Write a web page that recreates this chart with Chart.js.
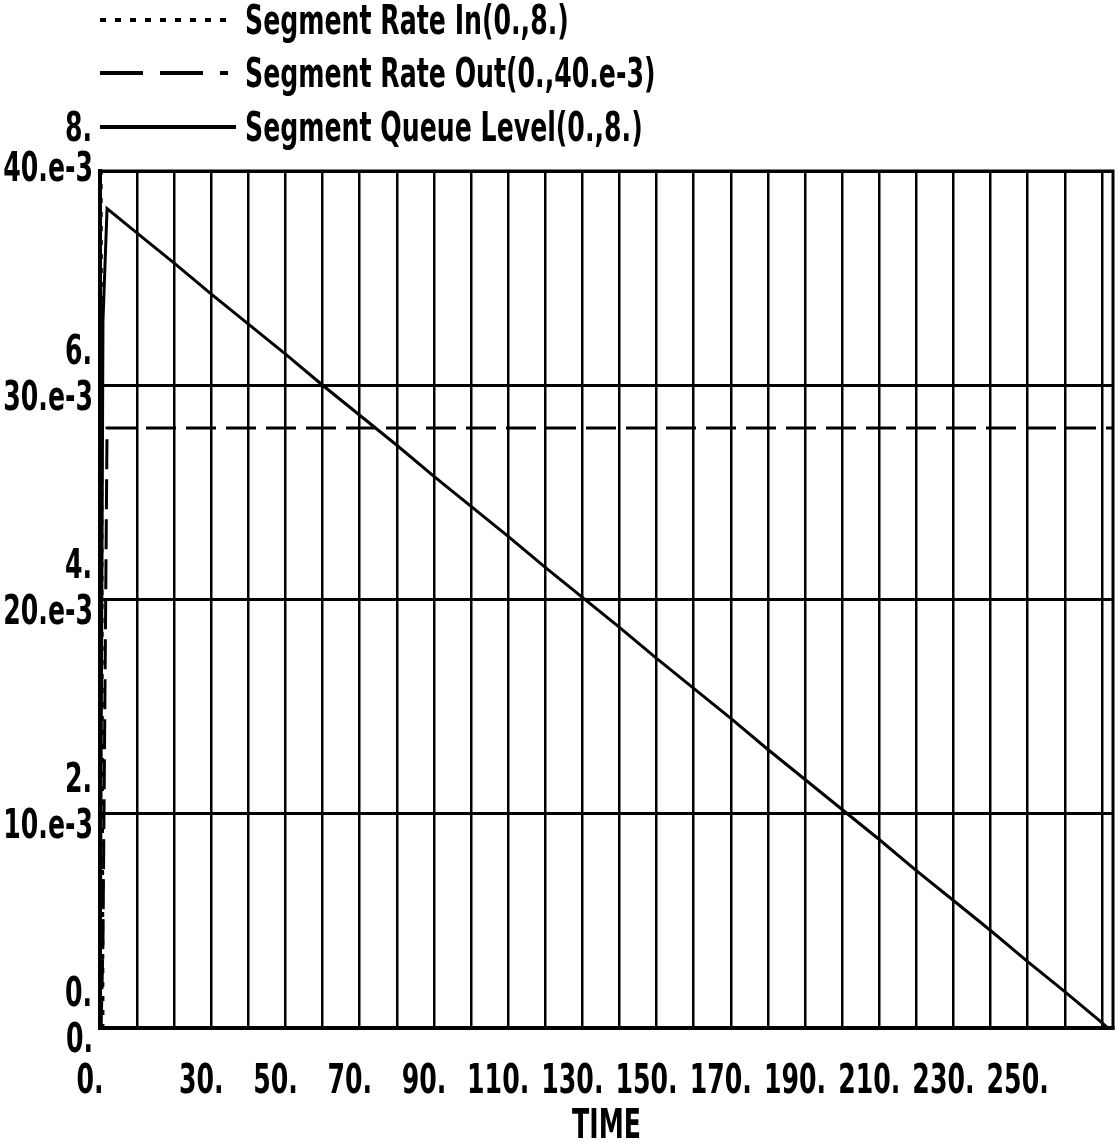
<!DOCTYPE html>
<html>
<head>
<meta charset="utf-8">
<script src="https://cdn.jsdelivr.net/npm/chart.js@4.4.1/dist/chart.umd.min.js"></script>
<style>
  body { margin: 0; background: #fff; }
  #wrap { position: relative; width: 1117px; height: 1146px; }
  #chart { position: absolute; left: 0; top: 0; }
  .legend-row { position: absolute; left: 0; height: 50px; width: 1117px; }
  .sample { position: absolute; left: 100px; height: 4px; }
  .legend-text, .level-top {
    position: absolute; font-family: 'DejaVu Sans Condensed', 'DejaVu Sans', sans-serif;
    font-weight: bold; font-size: 40px; line-height: 50px; white-space: nowrap;
    transform: scaleX(0.7); transform-origin: left center;
  }
  .legend-text { left: 245px; }
  .level-top { left: 65px; }
</style>
</head>
<body>
<div id="wrap">
  <canvas id="chart" width="1117" height="1146"></canvas>
  <div id="legend"></div>
</div>
<script>
// time axis
const timeSteps = [0, 0.3, 0.8, 1.9, 10, 20, 30, 40, 50, 60, 70, 80, 90, 100, 110, 120, 130, 140,
  150, 160, 170, 180, 190, 200, 210, 220, 230, 240, 250, 260, 270, 271.6, 273];

const rateIn = [8, 8, 0, 0, 0, 0, 0, 0, 0, 0, 0, 0, 0, 0, 0, 0, 0, 0,
  0, 0, 0, 0, 0, 0, 0, 0, 0, 0, 0, 0, 0, 0, 0];

const rateOut = [0, 0, 0.004, 0.028, 0.028, 0.028, 0.028, 0.028, 0.028, 0.028, 0.028, 0.028, 0.028, 0.028,
  0.028, 0.028, 0.028, 0.028, 0.028, 0.028, 0.028, 0.028, 0.028, 0.028, 0.028, 0.028, 0.028, 0.028,
  0.028, 0.028, 0.028, 0.028, 0.028];

const queueLevel = [0, 2.4, 6.6, 7.65, 7.42, 7.14, 6.85, 6.57, 6.29, 6.00, 5.72, 5.44, 5.15, 4.87,
  4.59, 4.30, 4.02, 3.74, 3.45, 3.17, 2.89, 2.60, 2.32, 2.04, 1.76, 1.47, 1.19, 0.91, 0.62, 0.34,
  0.05, 0, 0];

const seriesNames = ['Segment Rate In(0.,8.)', 'Segment Rate Out(0.,40.e-3)', 'Segment Queue Level(0.,8.)'];

const xGridTimes = [0, 10, 20, 30, 40, 50, 60, 70, 80, 90, 100, 110, 120, 130, 140, 150, 160, 170,
  180, 190, 200, 210, 220, 230, 240, 250, 260, 270];
const xTickValues = [0, 30, 50, 70, 90, 110, 130, 150, 170, 190, 210, 230, 250];
const xTickLabels = ['0.', '30.', '50.', '70.', '90.', '110.', '130.', '150.', '170.', '190.', '210.', '230.', '250.'];

const yTickValues = [0, 0.01, 0.02, 0.03, 0.04];
const yLevelLabels = ['0.', '2.', '4.', '6.', '8.'];
const yRateLabels = ['0.', '10.e-3', '20.e-3', '30.e-3', '40.e-3'];

const FONT = "'DejaVu Sans Condensed', 'DejaVu Sans', sans-serif";

function toPoints(values) {
  return timeSteps.map((t, i) => ({ x: t, y: values[i] }));
}

// html legend, same three line styles as the datasets
const legendStyles = [
  'repeating-linear-gradient(to right, #000 0 6px, transparent 6px 15px)',
  'repeating-linear-gradient(to right, #000 0 43px, transparent 43px 60px)',
  '#000'
];
const legendWidths = [132, 128, 136];
const legendTops = [-5, 48, 102];

let legendHtml = '';
seriesNames.forEach((name, i) => {
  legendHtml += `<div class="legend-row" style="top:${legendTops[i]}px">` +
    `<div class="sample" style="top:23px;width:${legendWidths[i]}px;background:${legendStyles[i]}"></div>` +
    (i === 2 ? `<span class="level-top">${yLevelLabels[4]}</span>` : '') +
    `<span class="legend-text">${name}</span></div>`;
});
document.getElementById('legend').innerHTML = legendHtml;

// the old plotter font is tall and narrow, so squeeze text horizontally
function drawNarrow(ctx, text, x, y, align) {
  ctx.save();
  ctx.translate(x, y);
  ctx.scale(0.7, 1);
  ctx.textAlign = align;
  ctx.fillText(text, 0, 0);
  ctx.restore();
}

// frame round the plot area plus the axis texts
const frameAndText = {
  id: 'frameAndText',
  afterDraw(chart) {
    const a = chart.chartArea;
    const ctx = chart.ctx;
    const xs = chart.scales.x;
    const ys = chart.scales.y;
    ctx.save();
    ctx.strokeStyle = '#000';
    ctx.lineWidth = 3;
    ctx.strokeRect(a.left, a.top, a.right - a.left, a.bottom - a.top);

    ctx.fillStyle = '#000';
    ctx.font = 'bold 40px ' + FONT;
    ctx.textBaseline = 'middle';
    yTickValues.forEach((v, i) => {
      const py = ys.getPixelForValue(v);
      if (i < 4) {
        drawNarrow(ctx, yLevelLabels[i], a.left - 8, py - 32, 'right');
        drawNarrow(ctx, yRateLabels[i], a.left - 7, py + 14, 'right');
      } else {
        drawNarrow(ctx, yRateLabels[i], a.left - 7, py, 'right');
      }
    });
    xTickValues.forEach((v, i) => {
      drawNarrow(ctx, xTickLabels[i], xs.getPixelForValue(v) - 10, a.bottom + 55, 'center');
    });
    drawNarrow(ctx, 'TIME', (a.left + a.right) / 2, a.bottom + 100, 'center');
    ctx.restore();
  }
};

new Chart(document.getElementById('chart'), {
  type: 'line',
  data: {
    datasets: [
      {
        label: seriesNames[0],
        data: toPoints(rateIn),
        yAxisID: 'yLevel',
        borderColor: '#000',
        borderWidth: 3,
        borderDash: [5, 9],
        pointRadius: 0,
        tension: 0
      },
      {
        label: seriesNames[1],
        data: toPoints(rateOut),
        yAxisID: 'y',
        borderColor: '#000',
        borderWidth: 3,
        borderDash: [30, 10],
        pointRadius: 0,
        tension: 0
      },
      {
        label: seriesNames[2],
        data: toPoints(queueLevel),
        yAxisID: 'yLevel',
        borderColor: '#000',
        borderWidth: 3,
        pointRadius: 0,
        tension: 0
      }
    ]
  },
  plugins: [frameAndText],
  options: {
    responsive: false,
    animation: false,
    layout: { padding: { top: 171, right: 4, left: 0, bottom: 0 } },
    plugins: {
      legend: { display: false },
      tooltip: { enabled: false }
    },
    scales: {
      x: {
        type: 'linear',
        min: 0,
        max: 273,
        afterBuildTicks: scale => { scale.ticks = xGridTimes.map(v => ({ value: v })); },
        afterFit: scale => {
          scale.height = 118;
          scale.paddingLeft = 0;
          scale.paddingRight = 0;
        },
        grid: { color: '#000', lineWidth: 2.5, drawTicks: false },
        border: { color: '#000', width: 4 },
        ticks: { display: false }
      },
      y: {
        min: 0,
        max: 0.04,
        afterBuildTicks: scale => { scale.ticks = yTickValues.map(v => ({ value: v })); },
        afterFit: scale => {
          scale.width = 100;
          scale.paddingTop = 0;
          scale.paddingBottom = 0;
        },
        grid: { color: '#000', lineWidth: 3, drawTicks: false },
        border: { color: '#000', width: 4 },
        ticks: { display: false }
      },
      yLevel: {
        display: false,
        min: 0,
        max: 8
      }
    }
  }
});
</script>
</body>
</html>
